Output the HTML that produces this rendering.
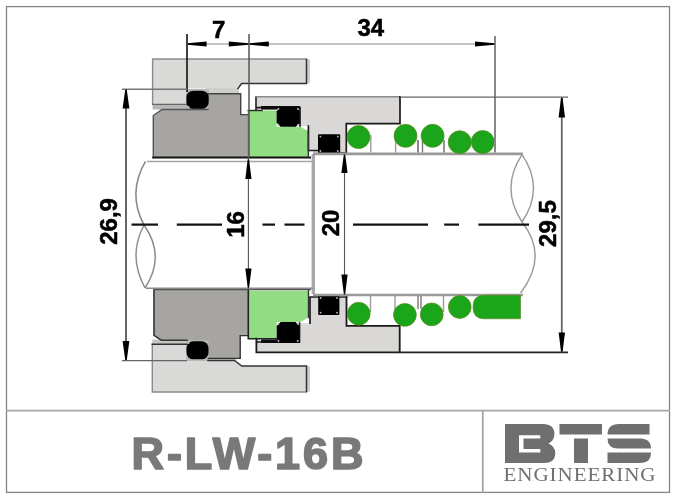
<!DOCTYPE html>
<html><head><meta charset="utf-8">
<style>
html,body{margin:0;padding:0;background:#fff;}
body{width:676px;height:500px;overflow:hidden;position:relative;}
svg{position:absolute;left:0;top:0;filter:blur(0.5px);}
text{font-family:"Liberation Sans", sans-serif;}
</style></head><body>
<svg width="676" height="500" viewBox="0 0 676 500">
<!-- frame -->
<rect x="6.5" y="6.6" width="663" height="485.8" fill="none" stroke="#858585" stroke-width="1.3"/>
<line x1="6" y1="410.7" x2="670" y2="410.7" stroke="#a6a6a6" stroke-width="1.8"/>
<line x1="482.8" y1="410.7" x2="482.8" y2="492.5" stroke="#a6a6a6" stroke-width="1.8"/>

<!-- title -->
<text x="131.5" y="468.8" font-size="45" font-weight="bold" fill="#797979" stroke="#797979" stroke-width="1.7" stroke-linejoin="round" letter-spacing="2.9">R-LW-16B</text>

<!-- logo -->
<g fill="#6f6f6f">
  <path d="M505,424 H543 Q554.4,424 554.4,434 Q554.4,440.5 548.5,443.5 Q555.3,446.5 555.3,453 Q555.3,463 544,463 H505 Z M519,435.2 V452.6 H540.3 V449 H523.5 V438.4 H540.3 V435.2 Z"/>
  <rect x="559.5" y="424" width="42.5" height="10.5"/>
  <rect x="574" y="438.5" width="14" height="24.5"/>
  <path d="M619,424 H649.5 V434.5 H607.5 Q607.5,424 619,424 Z"/>
  <path d="M607.5,438.5 H640 Q651,438.5 651,448.5 H618 Q607.5,448.5 607.5,438.5 Z"/>
  <path d="M607.5,452.5 H651 Q651,463 640,463 H607.5 Z"/>
</g>
<text transform="translate(503.5,480.6) scale(1.17,1)" x="0" y="0" font-size="18" fill="#6e6e6e" letter-spacing="0.8" style="font-family:'Liberation Serif',serif">ENGINEERING</text>

<!-- ===== drawing ===== -->
<!-- fills -->
<g stroke="none">
  <!-- upper gland plate -->
  <path d="M152.6,59 H309 V83.5 H241.6 L238,88.5 H187 V104.4 H152.6 Z" fill="#d9d9d7"/>
  <rect x="152.6" y="104.2" width="34.5" height="5.3" fill="#b7b6b4"/>
  <rect x="306" y="59.5" width="4" height="23.5" fill="#cfcfcd"/>
  <rect x="206" y="88" width="33" height="6" fill="#cfcecc"/>
  <rect x="186" y="89" width="23" height="21" fill="#b9b8b6"/>
  <!-- lower gland plate -->
  <path d="M152.3,392 H309 V366 H241.8 L234.5,360.5 H187 V344.2 H152.3 Z" fill="#d9d9d7"/>
  <rect x="306" y="366.5" width="4" height="25" fill="#cfcfcd"/>
  <rect x="206" y="358" width="30" height="3" fill="#c4c3c1"/>
  <rect x="186" y="340" width="23" height="21" fill="#b9b8b6"/>
  <rect x="152.3" y="339.5" width="35" height="5" fill="#c6c5c3"/>
  <!-- upper seat -->
  <path d="M153.3,115.5 L162,109.5 H208 V93.8 H240.7 V114.6 H248.3 V157.6 H153.3 Z" fill="#a7a5a2"/>
  <!-- lower seat -->
  <path d="M154,289 H248.3 V335.6 H240.2 V358.4 H208.5 V340.2 H161.3 L154,335.3 Z" fill="#a7a5a2"/>
  <!-- upper housing -->
  <path d="M255.6,96.8 H400 V123.6 H346.3 V153 H313 V150.5 H308.4 V126 H300 V107.6 H260 V110 H255.6 Z" fill="#d9d8d6"/>
  <!-- lower housing -->
  <path d="M256.4,352.4 H399.7 V325.8 H346.5 V297 H310 V323.2 H299.5 V342 H260 V338.7 H256.4 Z" fill="#d9d8d6"/>
  <!-- upper green face -->
  <path d="M248.3,110.5 H276.6 V126.8 H300.3 L308.4,131.2 V157.6 H248.3 Z" fill="#92dc84"/>
  <!-- lower green face -->
  <path d="M248.3,290.7 H308.5 V317.5 L300.3,322 H276.7 V338.7 H248.3 Z" fill="#92dc84"/>
</g>
<!-- edges -->
<g fill="none" stroke-linecap="square">
  <!-- upper gland -->
  <path d="M152.6,104.4 V59 H306" stroke="#8a8a8a" stroke-width="1.4"/>
  <path d="M306.5,59.5 V83.5 H241.6 L238,88.5" stroke="#333" stroke-width="1.5"/>
  <path d="M152.6,104.4 H187" stroke="#666" stroke-width="1.2"/>
  <!-- lower gland -->
  <path d="M152.3,344.2 V392 H306" stroke="#8a8a8a" stroke-width="1.4"/>
  <path d="M152.3,344.2 H187" stroke="#333" stroke-width="1.5"/>
  <path d="M306.5,391.5 V366 H241.8 L234.5,360.5 H208" stroke="#333" stroke-width="1.5"/>
  <!-- upper seat -->
  <path d="M153.3,157.6 V115.5 L162,109.5 H208" stroke="#555" stroke-width="1.4"/>
  <path d="M208,93.8 H240.7 V114.6 H248.3" stroke="#444" stroke-width="1.4"/>
  <path d="M153.3,157.6 H310" stroke="#111" stroke-width="2"/>
  <!-- lower seat -->
  <path d="M154,289 V335.3 L161.3,340.2 H187" stroke="#333" stroke-width="1.6"/>
  <path d="M154,289.2 H310" stroke="#555" stroke-width="2"/>
  <path d="M208.5,358.4 H240.2 V335.6 H248.3" stroke="#333" stroke-width="1.4"/>
  <!-- upper housing -->
  <path d="M255.6,96.8 H400" stroke="#8a8a8a" stroke-width="1.4"/>
  <path d="M256,98 V110" stroke="#222" stroke-width="1.6"/>
  <path d="M400,96.8 V123.6 H346.3 V153" stroke="#1a1a1a" stroke-width="1.7"/>
  <path d="M257,107.6 H300 V126 M308.4,126 V150.5 H318 M340,153 H346.3" stroke="#1a1a1a" stroke-width="1.7"/>
  <rect x="261" y="106" width="39" height="3.6" fill="#0c0c0c" stroke="none"/>
  <!-- lower housing -->
  <path d="M256.4,338.7 V352.4 H399.7 V325.8 H346.5 V297" stroke="#1a1a1a" stroke-width="1.8"/>
  <path d="M257,342 H299.5 V323.2 M310,323.2 V297 H346.5" stroke="#1a1a1a" stroke-width="1.7"/>
  <rect x="261" y="339.4" width="39" height="3.6" fill="#0c0c0c" stroke="none"/>
  <!-- green edges -->
  <path d="M248.3,157.6 V110.5" stroke="#5a7a55" stroke-width="1"/>
  <path d="M248.3,110.5 H262" stroke="#222" stroke-width="1.4"/>
  <path d="M248.3,290.7 V338.7 H276.7" stroke="#222" stroke-width="1.6"/>
  <path d="M308.4,131.2 V157.6" stroke="#333" stroke-width="1.4"/>
  <path d="M308.5,290.7 V317.5" stroke="#333" stroke-width="1.4"/>
</g>
<!-- o-rings -->
<g fill="#000">
  <rect x="186.4" y="90.7" width="22.3" height="18.1" rx="7" ry="6.5"/>
  <rect x="186.5" y="341.3" width="22" height="18" rx="7" ry="6.5"/>
  <path d="M280.6,107.2 H295.8 L299.8,111.2 V122.8 L295.8,126.8 H280.6 L276.6,122.8 V111.2 Z"/>
  <path d="M280.7,322 H295.5 L299.5,326 V338.8 L295.5,342.8 H280.7 L276.7,338.8 V326 Z"/>
  <rect x="318" y="134.2" width="22.2" height="19.2" rx="1"/>
  <rect x="318.2" y="295.6" width="21.2" height="19.5" rx="1"/>
</g>
<g fill="#bdbdbd">
<circle cx="278.40000000000003" cy="109.0" r="0.9"/><circle cx="278.40000000000003" cy="125.0" r="0.9"/><circle cx="298.0" cy="109.0" r="0.9"/><circle cx="298.0" cy="125.0" r="0.9"/><circle cx="278.5" cy="323.8" r="0.9"/><circle cx="278.5" cy="341.0" r="0.9"/><circle cx="297.7" cy="323.8" r="0.9"/><circle cx="297.7" cy="341.0" r="0.9"/><circle cx="320.4" cy="136.6" r="0.9"/><circle cx="320.4" cy="151.0" r="0.9"/><circle cx="337.8" cy="136.6" r="0.9"/><circle cx="337.8" cy="151.0" r="0.9"/><circle cx="320.59999999999997" cy="298.0" r="0.9"/><circle cx="320.59999999999997" cy="312.70000000000005" r="0.9"/><circle cx="337.0" cy="298.0" r="0.9"/><circle cx="337.0" cy="312.70000000000005" r="0.9"/><circle cx="188.6" cy="107" r="0.9"/><circle cx="188.6" cy="343" r="0.9"/>
</g>
<!-- shaft -->
<g stroke="#9a9a9a" fill="none">
  <line x1="147" y1="161.5" x2="313" y2="161.5" stroke-width="1.7" stroke="#a5a5a5"/>
  <line x1="313.3" y1="154" x2="313.3" y2="294" stroke-width="3.4" stroke="#a8a8a8"/>
  <line x1="313" y1="153.9" x2="523" y2="153.9" stroke-width="2.6"/>
  <line x1="313" y1="295" x2="523" y2="295" stroke-width="2.6"/>
  <line x1="146" y1="288.2" x2="313" y2="288.2" stroke-width="1.6" stroke="#8a8a8a"/>
  <!-- break curves -->
  <path d="M145.5,161.3 Q127,193 144,225" stroke-width="1.6" stroke="#8a8a8a"/>
  <path d="M144,225 Q127.5,256 145,288" stroke-width="1.5" stroke="#8f8f8f"/>
  <path d="M144,225 Q166,256 145,288" stroke-width="1.5" stroke="#8f8f8f"/>
  <path d="M522,154.6 Q500,188 522,222" stroke-width="1.4"/>
  <path d="M522,154.6 Q545,188 522,222" stroke-width="1.4"/>
  <path d="M522,222 Q549,256 520.6,293" stroke-width="1.4"/>
</g>
<!-- spring side lines -->
<g stroke="#9c9c9c" stroke-width="1.4">
  <line x1="370.8" y1="135" x2="370.8" y2="152.5"/>
  <line x1="395.6" y1="138" x2="395.6" y2="152.5"/>
  <line x1="418" y1="140" x2="418" y2="152.5" stroke="#555"/>
  <line x1="422.5" y1="140" x2="422.5" y2="152.5" stroke="#777"/>
  <line x1="444" y1="140" x2="444" y2="152.5" stroke="#666"/>
  <line x1="370.5" y1="296" x2="370.5" y2="312"/>
  <line x1="395" y1="296" x2="395" y2="312"/>
  <line x1="418" y1="296" x2="418" y2="309" stroke="#777"/>
  <line x1="421" y1="296" x2="421" y2="309" stroke="#777"/>
  <line x1="443.5" y1="296" x2="443.5" y2="312"/>
</g>
<!-- springs -->
<g fill="#1aa51a" stroke="#5f8a1c" stroke-width="0.7">
  <circle cx="358.5" cy="137" r="11.5"/>
  <circle cx="405.5" cy="135.8" r="11.5"/>
  <circle cx="432.6" cy="135.8" r="11.5"/>
  <circle cx="459.7" cy="142.2" r="11.5"/>
  <circle cx="482.7" cy="142" r="11.5"/>
  <circle cx="358.75" cy="313.75" r="11.4"/>
  <circle cx="404.9" cy="314.9" r="11.4"/>
  <circle cx="431.75" cy="314.4" r="11.4"/>
  <circle cx="459.75" cy="307" r="11.4"/>
  <path d="M484,295.3 H520.5 V318.75 H484 Q473,318.75 473,307 Q473,295.3 484,295.3 Z"/>
</g>

<!-- dimensions -->
<g fill="none">
  <line x1="187" y1="34" x2="187" y2="92" stroke-width="1.6" stroke="#111"/>
  <line x1="249" y1="34" x2="249" y2="157" stroke-width="1.5" stroke="#555"/>
  <line x1="495" y1="36" x2="495" y2="152.5" stroke-width="2" stroke="#888"/>
  <line x1="187" y1="44" x2="495" y2="44" stroke-width="1.2" stroke="#888"/>
  <line x1="122" y1="89.2" x2="187" y2="89.2" stroke-width="1.4" stroke="#777"/>
  <line x1="122" y1="360.6" x2="187" y2="360.6" stroke-width="1.4" stroke="#666"/>
  <line x1="126" y1="89" x2="126" y2="360.6" stroke-width="1.8" stroke="#555"/>
  <line x1="400" y1="97.2" x2="568" y2="97.2" stroke-width="1.3" stroke="#666"/>
  <line x1="399.5" y1="352.4" x2="568" y2="352.4" stroke-width="1.7" stroke="#222"/>
  <line x1="561.8" y1="97.2" x2="561.8" y2="352.3" stroke-width="1.8" stroke="#666"/>
  <line x1="248.4" y1="157.6" x2="248.4" y2="289" stroke-width="1.1" stroke="#555"/>
  <line x1="344.5" y1="155.5" x2="344.5" y2="295" stroke-width="1.1" stroke="#555"/>
  <!-- centerline -->
  <g stroke="#111" stroke-width="2.2">
    <line x1="131.5" y1="224.6" x2="158" y2="224.6"/>
    <line x1="176.8" y1="224.6" x2="222" y2="224.6"/>
    <line x1="262.5" y1="224.6" x2="275" y2="224.6"/>
    <line x1="284.5" y1="224.6" x2="304.5" y2="224.6"/>
    <line x1="353" y1="224.6" x2="428" y2="224.6"/>
    <line x1="444.2" y1="224.6" x2="459" y2="224.6"/>
    <line x1="478.4" y1="224.6" x2="529" y2="224.6"/>
  </g>
</g>
<!-- arrows -->
<g fill="#000">
<path d="M187.5,43.3 L206.6,41.5 V46.5 L187.5,44.7 Z"/>
<path d="M248.5,43.3 L228.8,41.5 V46.5 L248.5,44.7 Z"/>
<path d="M249.5,43.3 L268.8,41.5 V46.5 L249.5,44.7 Z"/>
<path d="M494.5,43.3 L475,41.5 V46.5 L494.5,44.7 Z"/>
<path d="M125.2,90 L122.6,108.5 H129.4 L126.8,90 Z"/>
<path d="M125.2,359.8 L122.6,341 H129.4 L126.8,359.8 Z"/>
<path d="M561.0,98 L558.5999999999999,117.5 H565.0 L562.5999999999999,98 Z"/>
<path d="M561.0,351.5 L558.5999999999999,332.5 H565.0 L562.5999999999999,351.5 Z"/>
<path d="M247.70000000000002,159.5 L245.3,179 H251.5 L249.1,159.5 Z"/>
<path d="M247.70000000000002,287.5 L245.3,268.5 H251.5 L249.1,287.5 Z"/>
<path d="M343.8,154.5 L341.4,173 H347.6 L345.2,154.5 Z"/>
<path d="M343.8,294 L341.4,274.5 H347.6 L345.2,294 Z"/>
</g>
<!-- dim text -->
<g font-weight="bold" font-size="24" fill="#000" stroke="#000" stroke-width="0.5">
  <text x="218.6" y="38.2" text-anchor="middle">7</text>
  <text x="370.8" y="36.2" text-anchor="middle">34</text>
  <text transform="translate(116.6,221.4) rotate(-90)" text-anchor="middle">26,9</text>
  <text transform="translate(243.8,224.5) rotate(-90)" text-anchor="middle">16</text>
  <text transform="translate(338.6,222.9) rotate(-90)" text-anchor="middle">20</text>
  <text transform="translate(555.9,223.6) rotate(-90)" text-anchor="middle">29,5</text>
</g>
</svg>
</body></html>
